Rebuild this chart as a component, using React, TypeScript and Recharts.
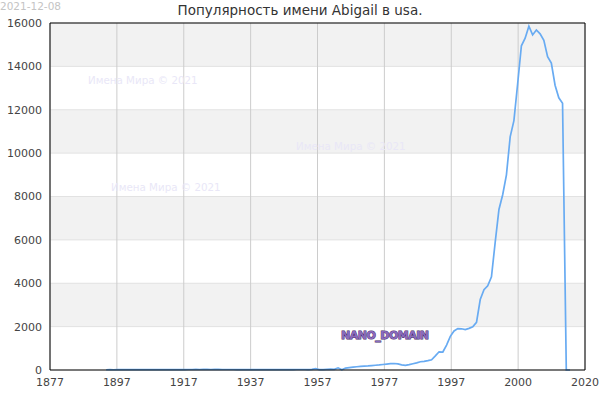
import { CartesianGrid, Line, LineChart, ReferenceLine, XAxis, YAxis } from "recharts";

const TITLE = "Популярность имени Abigail в usa.";
const DATE = "2021-12-08";
const WATERMARK = "Имена Мира © 2021";

// births per year, first value is for START_YEAR
const START_YEAR = 1892;
const births = [
  // 1892-1945, almost nothing
  12, 14, 12, 15, 14, 16, 15, 14, 16, 15,
  14, 15, 16, 15, 14, 16, 15, 16, 18, 17,
  18, 20, 22, 24, 25, 24, 26, 25, 24, 25,
  26, 24, 22, 23, 22, 21, 20, 20, 18, 18,
  17, 18, 16, 17, 18, 17, 18, 19, 20, 21,
  20, 22, 24, 22,
  // 1946-1979
  20, 30, 60, 20, 20, 30, 40, 30, 100, 10,
  90, 110, 130, 150, 170, 180, 190, 205, 220, 235,
  255, 275, 290, 300, 280, 240, 215, 250, 290, 330,
  380, 400, 430, 470,
  // 1980-2016
  650, 840, 830, 1150, 1550, 1800, 1910, 1900, 1860, 1920,
  1990, 2200, 3250, 3700, 3880, 4300, 5900, 7400, 8080, 9000,
  10750, 11500, 13200, 14950, 15300, 15850, 15450, 15680, 15500, 15200,
  14450, 14150, 13130, 12550, 12300, 0, 0,
];

const X_MIN = 1877;
const X_MAX = 2020;
const xTickLabels = ["1877", "1897", "1917", "1937", "1957", "1977", "1997", "2000", "2020"];
const yTicks = [0, 2000, 4000, 6000, 8000, 10000, 12000, 14000, 16000];

const FONT = "'DejaVu Sans', sans-serif";

export default function App() {
  const data = births.map((v, i) => ({ year: START_YEAR + i, count: v }));
  const step = (X_MAX - X_MIN) / (xTickLabels.length - 1);
  const xTicks = xTickLabels.map((_, i) => X_MIN + i * step);

  const watermarkStyle: React.CSSProperties = {
    position: "absolute",
    fontFamily: FONT,
    fontSize: 10.3,
    color: "#e9e7f7",
    whiteSpace: "nowrap",
    pointerEvents: "none",
  };

  return (
    <div style={{ position: "absolute", left: 0, top: 0, width: 600, height: 400, background: "#fff", fontFamily: FONT }}>
      <LineChart
        width={600}
        height={400}
        data={data}
        margin={{ top: 23, right: 15, left: 0, bottom: 0 }}
      >
        <CartesianGrid
          vertical={false}
          stroke="#e2e2e2"
          horizontalFill={["#f2f2f2", "#ffffff"]}
          fillOpacity={1}
        />
        <CartesianGrid horizontal={false} stroke="#cccccc" />
        <XAxis
          dataKey="year"
          type="number"
          domain={[X_MIN, X_MAX]}
          ticks={xTicks}
          tickFormatter={(_v: number, i: number) => xTickLabels[i]}
          interval={0}
          height={30}
          tickLine={false}
          axisLine={{ stroke: "#000" }}
          tick={{ fontSize: 11, fill: "#444", fontFamily: FONT }}
          allowDataOverflow
        />
        <YAxis
          type="number"
          domain={[0, 16000]}
          ticks={yTicks}
          interval={0}
          width={50}
          tickLine={false}
          axisLine={{ stroke: "#000" }}
          tick={{ fontSize: 11, fill: "#444", fontFamily: FONT }}
        />
        <ReferenceLine x={X_MAX} stroke="#000" />
        <ReferenceLine y={16000} stroke="#000" />
        <Line
          type="linear"
          dataKey="count"
          stroke="#68abf2"
          strokeWidth={1.7}
          dot={false}
          isAnimationActive={false}
        />
      </LineChart>

      <div style={{ position: "absolute", left: 0, top: 0, fontSize: 10.5, lineHeight: "12px", color: "#c4c4c4", fontFamily: FONT }}>
        {DATE}
      </div>
      <div style={{ position: "absolute", left: 0, width: 600, top: 2, textAlign: "center", fontSize: 13.5, color: "#333", fontFamily: FONT }}>
        {TITLE}
      </div>

      <div style={{ ...watermarkStyle, left: 88, top: 74 }}>{WATERMARK}</div>
      <div style={{ ...watermarkStyle, left: 296, top: 140 }}>{WATERMARK}</div>
      <div style={{ ...watermarkStyle, left: 111, top: 181 }}>{WATERMARK}</div>

      <svg style={{ position: "absolute", left: 0, top: 0, pointerEvents: "none" }} width={600} height={400}>
        <text
          x={341}
          y={339}
          fontFamily={FONT}
          fontSize={11}
          fontWeight="bold"
          fill="#8a6abd"
          stroke="#3f1f66"
          strokeWidth={0.9}
          paintOrder="stroke"
          letterSpacing={-0.5}
        >
          NANO_DOMAIN
        </text>
      </svg>
    </div>
  );
}
